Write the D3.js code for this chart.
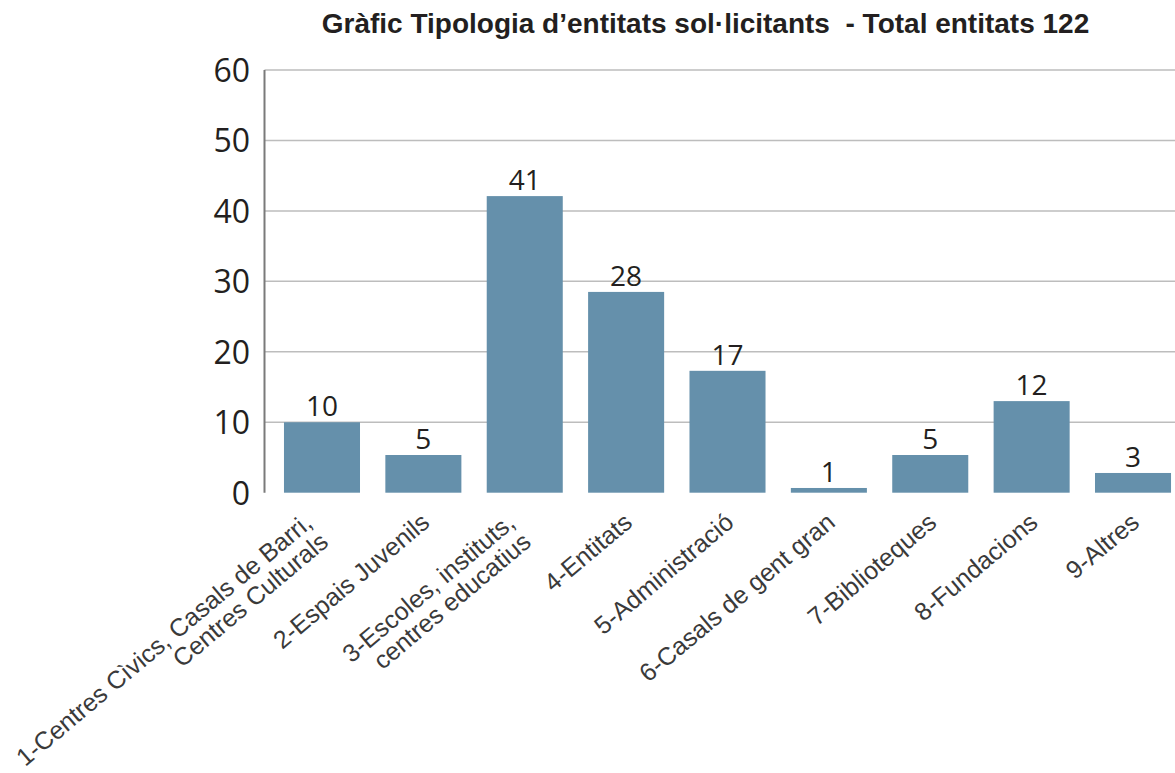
<!DOCTYPE html>
<html>
<head>
<meta charset="utf-8">
<script src="https://cdn.jsdelivr.net/npm/d3@7"></script>
<style>
  html, body { margin: 0; padding: 0; background: #fff; }
  svg { display: block; }
</style>
</head>
<body>
<div id="chart"></div>
<script>
// category labels, one array of lines per bar
const categories = [
    ['1-Centres Cìvics, Casals de Barri,', 'Centres Culturals'],
    ['2-Espais Juvenils'],
    ['3-Escoles, instituts,', 'centres educatius'],
    ['4-Entitats'],
    ['5-Administració'],
    ['6-Casals de gent gran'],
    ['7-Biblioteques'],
    ['8-Fundacions'],
    ['9-Altres']
];
// printed value labels
const valueLabels = [10, 5, 41, 28, 17, 1, 5, 12, 3];
// bar heights as drawn in the picture (slightly off the printed labels)
const barHeights = [10, 5.35, 42.1, 28.5, 17.3, 0.67, 5.35, 13.0, 2.8];
const yTicks = [0, 10, 20, 30, 40, 50, 60];
const title = 'Gràfic Tipologia d’entitats sol·licitants  - Total entitats 122';

const W = 1175, H = 773;
const axisX = 264.5;

const svg = d3.select('#chart').append('svg')
    .attr('width', W)
    .attr('height', H);

const ids = categories.map((c, i) => i);

const x = d3.scaleBand()
    .domain(ids)
    .range([271.3, 1183.7])
    .paddingInner(0.25)
    .paddingOuter(0.125);

const y = d3.scaleLinear()
    .domain([0, 60])
    .range([492.7, 70]);

// title
svg.append('text')
    .attr('x', 705.5)
    .attr('y', 33)
    .attr('text-anchor', 'middle')
    .style('white-space', 'pre')
    .style('font-family', '"Liberation Sans", Arial, sans-serif')
    .style('font-weight', 700)
    .style('font-size', '28px')
    .attr('fill', '#231f20')
    .text(title);

// gridlines
svg.append('g')
    .selectAll('line')
    .data(yTicks.filter(t => t > 0))
    .enter()
    .append('line')
    .attr('x1', axisX)
    .attr('x2', W)
    .attr('y1', d => y(d))
    .attr('y2', d => y(d))
    .attr('stroke', '#bdbdbd')
    .attr('stroke-width', 1.5);

// y tick labels
svg.append('g')
    .selectAll('text')
    .data(yTicks)
    .enter()
    .append('text')
    .attr('x', 250)
    .attr('y', d => y(d) + 12)
    .attr('text-anchor', 'end')
    .style('font-family', '"Open Sans", "Noto Sans", sans-serif')
    .style('font-size', '32px')
    .attr('fill', '#231f20')
    .text(d => d);

// bars
svg.append('g')
    .selectAll('rect')
    .data(ids)
    .enter()
    .append('rect')
    .attr('x', i => x(i))
    .attr('width', x.bandwidth())
    .attr('y', i => y(barHeights[i]))
    .attr('height', i => y(0) - y(barHeights[i]))
    .attr('fill', '#6590ab');

// y axis line
svg.append('line')
    .attr('x1', axisX)
    .attr('x2', axisX)
    .attr('y1', y(60))
    .attr('y2', y(0))
    .attr('stroke', '#7a7a7a')
    .attr('stroke-width', 2);

// value labels
svg.append('g')
    .selectAll('text')
    .data(ids)
    .enter()
    .append('text')
    .attr('x', i => x(i) + x.bandwidth() / 2)
    .attr('y', i => y(barHeights[i]) - 6)
    .attr('text-anchor', 'middle')
    .style('font-family', '"Open Sans", "Noto Sans", sans-serif')
    .style('font-size', '28px')
    .attr('fill', '#231f20')
    .text(i => valueLabels[i]);

// rotated category labels (two-line labels sit a bit lower, as in the source)
const lineH = 25;
const catG = svg.append('g')
    .selectAll('g')
    .data(ids)
    .enter()
    .append('g')
    .attr('transform', i => {
        const multi = categories[i].length > 1;
        const ax = x(i) + x.bandwidth() / 2 + (multi ? -6 : 2);
        const ay = multi ? 528 : 518;
        return `translate(${ax},${ay}) rotate(-40)`;
    });

catG.each(function(i) {
    const lines = categories[i];
    d3.select(this).selectAll('text')
        .data(lines)
        .enter()
        .append('text')
        .attr('x', 0)
        .attr('y', (d, k) => (k - (lines.length - 1) / 2) * lineH)
        .attr('text-anchor', 'end')
        .attr('dominant-baseline', 'central')
        .style('font-family', '"Liberation Sans", Arial, sans-serif')
        .style('font-size', '25px')
        .attr('fill', '#3a3a3a')
        .text(d => d);
});
</script>
</body>
</html>
